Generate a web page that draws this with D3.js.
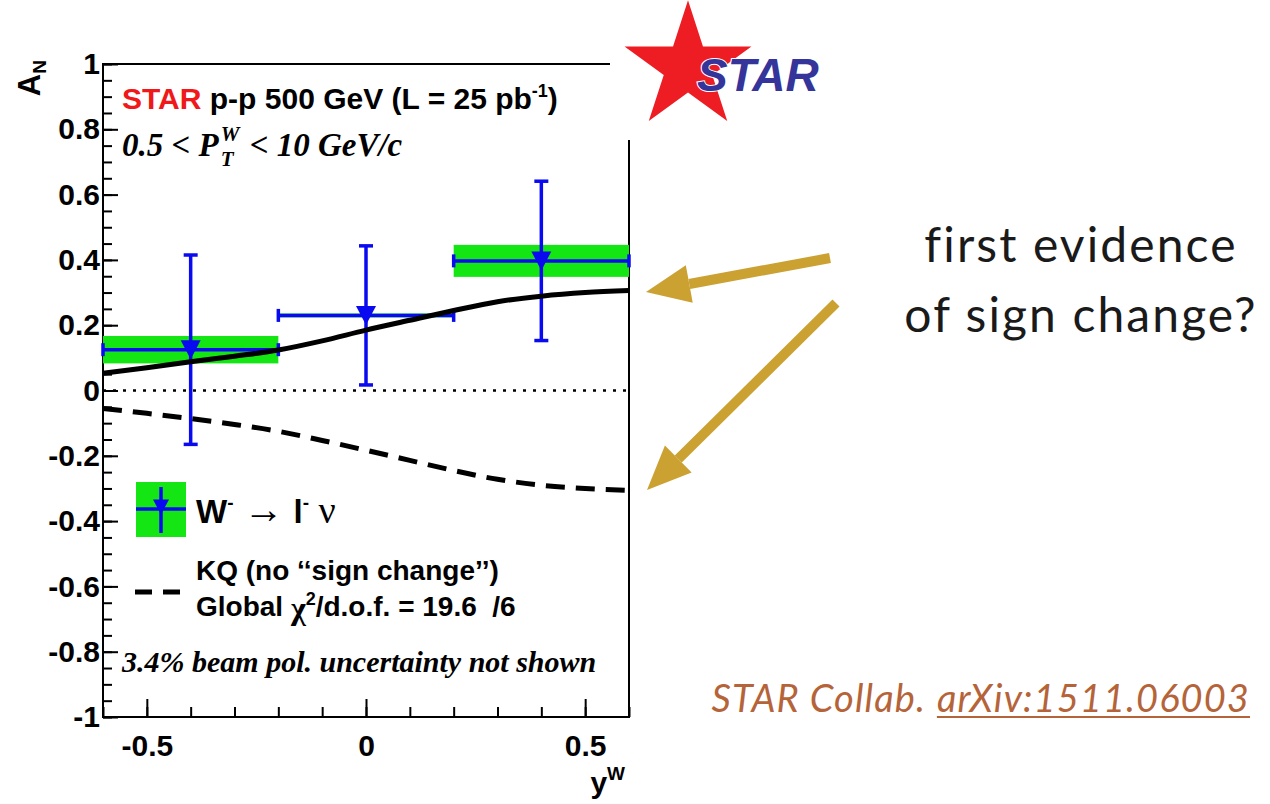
<!DOCTYPE html>
<html>
<head>
<meta charset="utf-8">
<script src="https://cdn.jsdelivr.net/npm/d3@7"></script>
<style>
  body { margin: 0; background: #fff; }
  svg { display: block; }
</style>
</head>
<body>
<svg id="chart" width="1270" height="804"></svg>
<script>
// Transverse single-spin asymmetry A_N of W- -> l- nu versus W rapidity
const binCenters    = [-0.4, 0.0, 0.4];
const binHalfWidths = [0.2, 0.2, 0.2];
const asymmetry     = [0.125, 0.230, 0.397];
const statErrors    = [0.290, 0.213, 0.244];
const sysErrors     = [0.042, 0.006, 0.049];

// Theory curves: with sign change (solid) and KQ without sign change (dashed)
const curveRapidity  = [-0.6, -0.5, -0.4, -0.3, -0.2, -0.1, 0.0, 0.1, 0.2, 0.3, 0.4, 0.5, 0.6];
const withSignChange = [0.053, 0.070, 0.088, 0.105, 0.124, 0.152, 0.185, 0.215, 0.245, 0.272, 0.289, 0.300, 0.306];
const kqNoSignChange = [-0.055, -0.070, -0.086, -0.104, -0.125, -0.153, -0.183, -0.214, -0.245, -0.272, -0.290, -0.300, -0.306];

// Axis ticks
const yTickValues = [1, 0.8, 0.6, 0.4, 0.2, 0, -0.2, -0.4, -0.6, -0.8, -1];
const yTickLabels = ["1", "0.8", "0.6", "0.4", "0.2", "0", "-0.2", "-0.4", "-0.6", "-0.8", "-1"];
const xTickValues = [-0.5, 0, 0.5];
const xTickLabels = ["-0.5", "0", "0.5"];

const SANS = "'Liberation Sans', Arial, Helvetica, sans-serif";
const SERIF = "'Liberation Serif', 'Times New Roman', serif";
const BLUE = "#0a0af0";
const GREEN = "#14e614";
const GOLD = "#cba132";

const svg = d3.select("#chart");
const x = d3.scaleLinear().domain([-0.6, 0.6]).range([103, 629]);
const y = d3.scaleLinear().domain([-1, 1]).range([717, 64]);

const plot = svg.append("g");

// ---- axes ----
function styleAxis(g) {
  g.select(".domain").remove();
  g.selectAll(".tick line").attr("stroke", "#000").attr("stroke-width", 2);
  g.attr("font-family", SANS).attr("font-size", 30).attr("font-weight", "bold");
  g.selectAll(".tick text").attr("fill", "#000");
}

plot.append("g").attr("transform", `translate(${x(-0.6)},0)`)
  .call(d3.axisLeft(y).ticks(40).tickSize(-9).tickFormat(""))
  .call(styleAxis);
plot.append("g").attr("transform", `translate(${x(-0.6)},0)`)
  .call(d3.axisLeft(y).tickValues(yTickValues).tickSize(-15).tickPadding(3)
    .tickFormat((d, i) => yTickLabels[i]))
  .call(styleAxis);

plot.append("g").attr("transform", `translate(0,${y(-1)})`)
  .call(d3.axisBottom(x).ticks(12).tickSize(-10).tickFormat(""))
  .call(styleAxis);
plot.append("g").attr("transform", `translate(0,${y(-1)})`)
  .call(d3.axisBottom(x).tickValues(xTickValues).tickSize(-18).tickPadding(18)
    .tickFormat((d, i) => xTickLabels[i]))
  .call(styleAxis);

// frame
plot.append("rect")
  .attr("x", x(-0.6)).attr("y", y(1))
  .attr("width", x(0.6) - x(-0.6)).attr("height", y(-1) - y(1))
  .attr("fill", "none").attr("stroke", "#000").attr("stroke-width", 2);

// zero line
plot.append("line")
  .attr("x1", x(-0.6)).attr("x2", x(0.6)).attr("y1", y(0)).attr("y2", y(0))
  .attr("stroke", "#000").attr("stroke-width", 2.5).attr("stroke-dasharray", "3,7");

// axis titles
const yTitle = svg.append("text")
  .attr("transform", "translate(40,60) rotate(-90)")
  .attr("text-anchor", "end")
  .attr("font-family", SANS).attr("font-weight", "bold").attr("font-size", 31);
yTitle.append("tspan").text("A");
yTitle.append("tspan").attr("font-size", 19).attr("dy", 6).text("N");

const xTitle = svg.append("text")
  .attr("x", 625).attr("y", 793).attr("text-anchor", "end")
  .attr("font-family", SANS).attr("font-weight", "bold").attr("font-size", 30);
xTitle.append("tspan").text("y");
xTitle.append("tspan").attr("font-size", 19).attr("dy", -13).text("W");

// ---- data ----
const points = binCenters.map((c, i) => ({
  c, hw: binHalfWidths[i], v: asymmetry[i], stat: statErrors[i], sys: sysErrors[i]
}));

const dataG = plot.append("g");

// systematic boxes
dataG.selectAll("rect.sys").data(points).join("rect")
  .attr("class", "sys")
  .attr("x", d => x(d.c - d.hw))
  .attr("width", d => x(d.c + d.hw) - x(d.c - d.hw))
  .attr("y", d => y(d.v + d.sys))
  .attr("height", d => y(d.v - d.sys) - y(d.v + d.sys))
  .attr("fill", GREEN);

const bars = dataG.selectAll("g.pt").data(points).join("g").attr("class", "pt")
  .attr("stroke", BLUE).attr("stroke-width", 3.5);

// horizontal bin extent
bars.append("line")
  .attr("x1", d => x(d.c - d.hw)).attr("x2", d => x(d.c + d.hw))
  .attr("y1", d => y(d.v)).attr("y2", d => y(d.v));
bars.append("line")
  .attr("x1", d => x(d.c - d.hw)).attr("x2", d => x(d.c - d.hw))
  .attr("y1", d => y(d.v) - 6.5).attr("y2", d => y(d.v) + 6.5);
bars.append("line")
  .attr("x1", d => x(d.c + d.hw)).attr("x2", d => x(d.c + d.hw))
  .attr("y1", d => y(d.v) - 6.5).attr("y2", d => y(d.v) + 6.5);
// statistical error
bars.append("line")
  .attr("x1", d => x(d.c)).attr("x2", d => x(d.c))
  .attr("y1", d => y(d.v + d.stat)).attr("y2", d => y(d.v - d.stat));
bars.append("line")
  .attr("x1", d => x(d.c) - 7).attr("x2", d => x(d.c) + 7)
  .attr("y1", d => y(d.v + d.stat)).attr("y2", d => y(d.v + d.stat));
bars.append("line")
  .attr("x1", d => x(d.c) - 7).attr("x2", d => x(d.c) + 7)
  .attr("y1", d => y(d.v - d.stat)).attr("y2", d => y(d.v - d.stat));

// down-pointing triangle marker
function downTriangle(cx, cy, w, h) {
  const p = d3.path();
  p.moveTo(cx - w / 2, cy - h / 2);
  p.lineTo(cx + w / 2, cy - h / 2);
  p.lineTo(cx, cy + h / 2);
  p.closePath();
  return p.toString();
}
dataG.selectAll("path.marker").data(points).join("path")
  .attr("class", "marker")
  .attr("d", d => downTriangle(x(d.c), y(d.v), 20, 19))
  .attr("fill", BLUE);

// ---- theory curves ----
const line = d3.line()
  .x((d, i) => x(curveRapidity[i]))
  .y(d => y(d))
  .curve(d3.curveMonotoneX);

plot.append("path").attr("d", line(withSignChange))
  .attr("fill", "none").attr("stroke", "#000").attr("stroke-width", 5);
plot.append("path").attr("d", line(kqNoSignChange))
  .attr("fill", "none").attr("stroke", "#000").attr("stroke-width", 5)
  .attr("stroke-dasharray", "19,11");

// ---- labels inside the frame ----
const t1 = svg.append("text").attr("x", 122).attr("y", 109)
  .attr("font-family", SANS).attr("font-size", 30).attr("font-weight", "bold").attr("fill", "#000");
t1.append("tspan").attr("fill", "#f01818").text("STAR");
t1.append("tspan").text(" p-p 500 GeV (L = 25 pb");
t1.append("tspan").attr("font-size", 18).attr("dy", -12).text("-1");
t1.append("tspan").attr("dy", 12).text(")");

// 0.5 < P_T^W < 10 GeV/c
const kin = svg.append("g").attr("font-family", SERIF).attr("font-style", "italic")
  .attr("font-weight", "bold").attr("fill", "#000");
const kinA = kin.append("text").attr("x", 122).attr("y", 156).attr("font-size", 33).text("0.5 < P");
const wA = kinA.node().getComputedTextLength();
const kinW = kin.append("text").attr("x", 122 + wA + 2).attr("y", 141).attr("font-size", 21).text("W");
const kinT = kin.append("text").attr("x", 122 + wA + 2).attr("y", 166).attr("font-size", 21).text("T");
const wSup = Math.max(kinW.node().getComputedTextLength(), kinT.node().getComputedTextLength());
kin.append("text").attr("x", 122 + wA + wSup + 4).attr("y", 156).attr("font-size", 33)
  .style("white-space", "pre").text(" < 10 GeV/c");

// legend: data entry
const leg = svg.append("g");
leg.append("rect").attr("x", 136).attr("y", 482).attr("width", 50).attr("height", 55).attr("fill", GREEN);
leg.append("line").attr("x1", 136).attr("x2", 186).attr("y1", 509).attr("y2", 509)
  .attr("stroke", BLUE).attr("stroke-width", 3.5);
leg.append("line").attr("x1", 161).attr("x2", 161).attr("y1", 487).attr("y2", 533)
  .attr("stroke", BLUE).attr("stroke-width", 3.5);
leg.append("path").attr("d", downTriangle(161, 507, 16, 15)).attr("fill", BLUE);

const wl = leg.append("text").attr("x", 196).attr("y", 523)
  .attr("font-family", SANS).attr("font-size", 33).attr("font-weight", "bold").attr("fill", "#000")
  .style("white-space", "pre");
wl.append("tspan").text("W");
wl.append("tspan").attr("font-size", 19).attr("dy", -14).text("-");
wl.append("tspan").attr("dy", 14).attr("font-family", SERIF).attr("font-weight", "normal").attr("font-size", 40).text(" \u2192 ");
wl.append("tspan").text("l");
wl.append("tspan").attr("font-size", 19).attr("dy", -14).text("-");
wl.append("tspan").attr("dy", 14).attr("font-family", SERIF).attr("font-weight", "normal").attr("font-size", 38).text(" \u03BD");

// legend: KQ curve entry
leg.append("line").attr("x1", 135).attr("x2", 180).attr("y1", 592).attr("y2", 592)
  .attr("stroke", "#000").attr("stroke-width", 5).attr("stroke-dasharray", "17,11");
leg.append("text").attr("x", 196).attr("y", 580)
  .attr("font-family", SANS).attr("font-size", 28).attr("font-weight", "bold").attr("fill", "#000")
  .text("KQ (no \u2018\u2018sign change\u2019\u2019)");
const chi = leg.append("text").attr("x", 196).attr("y", 616)
  .attr("font-family", SANS).attr("font-size", 28).attr("font-weight", "bold").attr("fill", "#000")
  .style("white-space", "pre");
chi.append("tspan").text("Global ");
chi.append("tspan").attr("font-family", SERIF).attr("font-size", 32).attr("dy", 3).text("\u03C7");
chi.append("tspan").attr("font-size", 18).attr("dy", -14).text("2");
chi.append("tspan").attr("dy", 11).text("/d.o.f. = 19.6  /6");

svg.append("text").attr("x", 122).attr("y", 672)
  .attr("font-family", SERIF).attr("font-style", "italic").attr("font-weight", "bold")
  .attr("font-size", 30).attr("fill", "#000")
  .text("3.4% beam pol. uncertainty not shown");

// ---- STAR logo ----
svg.append("rect").attr("x", 610).attr("y", 0).attr("width", 240).attr("height", 140).attr("fill", "#fff");
svg.append("path")
  .attr("d", d3.symbol(d3.symbolStar, 5000)())
  .attr("transform", "translate(688,67)")
  .attr("fill", "#ee1d23");
svg.append("text").attr("x", 697).attr("y", 91)
  .attr("font-family", SANS).attr("font-style", "italic").attr("font-weight", "bold")
  .attr("font-size", 46).attr("fill", "#34349a")
  .attr("stroke", "#fff").attr("stroke-width", 2).attr("paint-order", "stroke")
  .text("STAR");

// ---- annotation ----
const note = svg.append("g").attr("font-family", "Lato, 'Open Sans', sans-serif")
  .attr("font-weight", 400).attr("font-size", 48).attr("fill", "#1a1a1a")
  .attr("text-anchor", "middle").attr("letter-spacing", 2.1);
note.append("text").attr("x", 1081).attr("y", 262).text("first evidence");
note.append("text").attr("x", 1081).attr("y", 332).text("of sign change?");

function arrow(x1, y1, x2, y2) {
  const ang = Math.atan2(y2 - y1, x2 - x1);
  const len = 44, half = 19;
  const bx = x2 - len * Math.cos(ang), by = y2 - len * Math.sin(ang);
  const g = svg.append("g");
  g.append("line").attr("x1", x1).attr("y1", y1).attr("x2", bx).attr("y2", by)
    .attr("stroke", GOLD).attr("stroke-width", 10);
  const p = d3.path();
  p.moveTo(x2, y2);
  p.lineTo(bx + half * Math.sin(ang), by - half * Math.cos(ang));
  p.lineTo(bx - half * Math.sin(ang), by + half * Math.cos(ang));
  p.closePath();
  g.append("path").attr("d", p.toString()).attr("fill", GOLD);
}
arrow(830, 258, 646, 292);
arrow(836, 303, 647, 490);

// ---- citation ----
const cite = svg.append("g").attr("font-family", "Lato, 'Open Sans', sans-serif")
  .attr("font-style", "italic").attr("font-weight", 400).attr("font-size", 38)
  .attr("letter-spacing", 1.1).attr("fill", "#b5643a");
const arx = cite.append("text").attr("x", 1250).attr("y", 712).attr("text-anchor", "end").text("arXiv:1511.06003");
const arxW = arx.node().getComputedTextLength();
cite.append("line").attr("x1", 1250 - arxW).attr("x2", 1250).attr("y1", 717).attr("y2", 717)
  .attr("stroke", "#b5643a").attr("stroke-width", 2);
cite.append("text").attr("x", 1250 - arxW - 11).attr("y", 712).attr("text-anchor", "end").text("STAR Collab.");
</script>
</body>
</html>
